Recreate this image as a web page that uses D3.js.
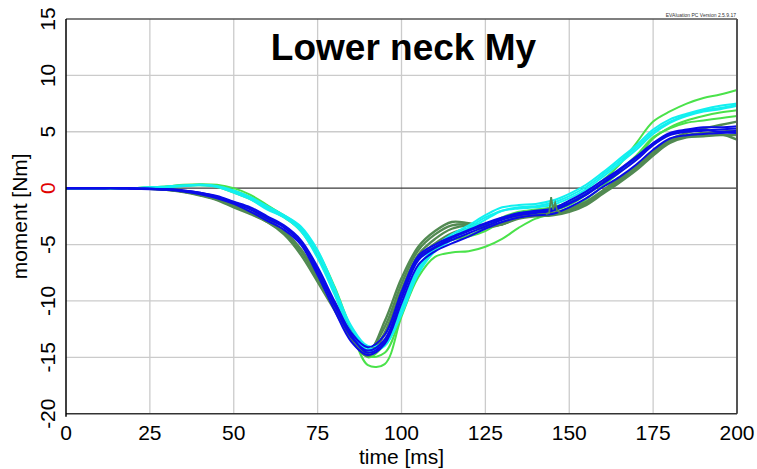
<!DOCTYPE html>
<html>
<head>
<meta charset="utf-8">
<script src="https://cdn.jsdelivr.net/npm/d3@7"></script>
<style>
  body { margin: 0; background: #fff; }
  svg { display: block; font-family: "Liberation Sans", Arial, sans-serif; }
</style>
</head>
<body>
<script>
  // sample times [ms]
  const times = [0, 5, 10, 15, 20, 25, 30, 35, 40, 45, 50, 55, 60, 65, 70, 75, 80, 85, 90, 95, 100,
                 105, 110, 115, 120, 125, 130, 135, 140, 145, 150, 155, 160, 165, 170, 175, 180, 185, 190, 195, 200];

  const xTicks = [0, 25, 50, 75, 100, 125, 150, 175, 200];
  const yTicks = [-20, -15, -10, -5, 0, 5, 10, 15];

  // dark green tests
  const dark1 = [0, 0, 0, 0, 0, -0.05, -0.15, -0.3, -0.6, -1.0, -1.6, -2.2, -2.9, -4.0, -5.6, -8.0, -10.4, -13.0, -14.6, -11.8, -8.0,
                 -5.2, -3.8, -3.0, -3.1, -3.3, -3.2, -2.6, -2.4, -2.3, -2.0, -1.4, -0.4, 0.6, 1.8, 3.0, 4.1, 4.6, 4.8, 4.8, 4.3];
  const dark2 = [0, 0, 0, 0, 0, -0.05, -0.1, -0.3, -0.55, -0.95, -1.5, -2.1, -2.8, -3.8, -5.4, -7.8, -10.1, -12.6, -14.4, -12.3, -8.5,
                 -5.5, -4.1, -3.3, -3.2, -3.3, -3.1, -2.5, -2.3, -2.2, -1.8, -1.2, -0.2, 0.9, 2.0, 3.3, 4.3, 4.9, 5.3, 5.6, 5.9];
  const dark3 = [0, 0, 0, 0, 0, -0.05, -0.15, -0.35, -0.65, -1.05, -1.7, -2.3, -3.0, -4.1, -5.9, -8.3, -10.8, -13.4, -14.9, -12.8, -9.0,
                 -5.9, -4.5, -3.6, -3.3, -3.4, -3.2, -2.7, -2.5, -2.4, -2.1, -1.5, -0.5, 0.5, 1.6, 2.9, 4.0, 4.5, 4.6, 4.7, 4.7];
  const dark4 = [0, 0, 0, 0, 0, -0.05, -0.1, -0.3, -0.6, -1.0, -1.6, -2.2, -3.0, -3.9, -5.5, -7.6, -10.2, -12.9, -14.5, -13.0, -9.6,
                 -6.2, -4.9, -4.0, -3.6, -3.5, -3.2, -2.6, -2.4, -2.3, -1.9, -1.3, -0.3, 0.7, 1.9, 3.2, 4.2, 4.7, 4.9, 5.0, 5.1];
  // the little spike on one dark green trace near 145 ms
  const spikeTimes = [143, 144, 144.6, 145.2, 145.8, 146.4, 147.5];
  const spikeValues = [-2.3, -2.2, -0.8, -1.9, -1.3, -2.0, -2.2];

  // light green tests
  const light1 = [0, 0, 0, 0, 0, 0.05, 0.15, 0.3, 0.35, 0.3, 0.0, -0.6, -1.5, -2.5, -3.8, -6.0, -9.0, -12.4, -15.0, -13.8, -10.6,
                  -7.2, -5.4, -4.6, -4.2, -3.5, -2.6, -2.1, -1.9, -1.7, -1.2, -0.3, 0.7, 2.1, 4.0, 5.9, 6.8, 7.5, 8.0, 8.3, 8.7];
  const light2 = [0, 0, 0, 0, 0, 0.05, 0.15, 0.25, 0.3, 0.2, -0.2, -0.8, -1.6, -2.4, -3.5, -5.6, -8.7, -12.5, -15.7, -15.6, -11.4,
                  -7.9, -6.1, -5.7, -5.6, -5.2, -4.5, -3.5, -2.7, -2.3, -1.9, -1.0, 0.2, 1.4, 2.6, 4.4, 5.4, 6.0, 6.4, 6.7, 6.9];
  const light3 = [0, 0, 0, 0, 0, 0, 0.1, 0.2, 0.25, 0.1, -0.4, -1.0, -1.8, -2.6, -3.7, -6.0, -9.3, -12.8, -14.9, -14.6, -11.2,
                  -7.6, -5.3, -4.6, -4.3, -3.8, -3.0, -2.5, -2.2, -2.0, -1.5, -0.6, 0.5, 1.6, 2.9, 4.5, 5.3, 5.8, 6.0, 6.2, 6.4];

  // cyan tests
  const cyan1 = [0, 0, 0, 0, 0, 0.05, 0.15, 0.25, 0.3, 0.15, -0.3, -0.9, -1.8, -2.5, -3.6, -5.8, -9.0, -12.4, -14.2, -13.9, -11.2,
                 -7.6, -5.6, -4.6, -3.7, -2.8, -2.0, -1.7, -1.6, -1.3, -0.7, 0.1, 1.2, 2.4, 3.6, 5.0, 5.9, 6.5, 6.9, 7.1, 7.4];
  const cyan2 = [0, 0, 0, 0, 0, 0.05, 0.1, 0.2, 0.25, 0.1, -0.4, -1.0, -1.9, -2.6, -3.8, -6.2, -9.4, -12.8, -14.4, -14.0, -11.0,
                 -7.3, -5.3, -4.3, -3.5, -2.6, -2.0, -1.8, -1.7, -1.5, -0.9, -0.1, 1.0, 2.2, 3.4, 4.8, 5.8, 6.4, 6.8, 7.0, 7.3];
  const cyan3 = [0, 0, 0, 0, 0, 0.05, 0.1, 0.2, 0.3, 0.2, -0.2, -0.8, -1.6, -2.4, -3.4, -5.5, -8.8, -12.2, -14.0, -13.6, -10.6,
                 -7.0, -5.2, -4.1, -3.3, -2.4, -1.7, -1.5, -1.4, -1.1, -0.5, 0.3, 1.4, 2.6, 3.8, 5.2, 6.1, 6.6, 7.0, 7.3, 7.5];

  // blue tests
  const blue1 = [0, 0, 0, 0, -0.05, -0.05, -0.1, -0.25, -0.45, -0.8, -1.3, -1.9, -2.7, -3.5, -4.8, -7.4, -10.4, -13.2, -14.4, -13.4, -9.8,
                 -6.4, -5.3, -4.6, -4.0, -3.4, -2.8, -2.4, -2.2, -2.0, -1.4, -0.6, 0.4, 1.4, 2.5, 3.8, 4.7, 5.0, 5.1, 5.2, 5.3];
  const blue2 = [0, 0, 0, 0, 0, -0.05, -0.1, -0.2, -0.4, -0.7, -1.2, -1.7, -2.5, -3.3, -4.6, -7.0, -10.0, -12.8, -14.1, -13.0, -9.2,
                 -6.0, -5.0, -4.3, -3.7, -3.1, -2.6, -2.2, -2.0, -1.8, -1.1, -0.3, 0.7, 1.7, 2.8, 4.0, 4.9, 5.2, 5.4, 5.4, 5.5];
  const blue3 = [0, 0, 0, 0, -0.05, -0.1, -0.15, -0.3, -0.55, -0.9, -1.4, -2.1, -2.9, -3.7, -5.0, -7.7, -10.8, -13.6, -14.8, -13.8, -10.2,
                 -6.8, -5.6, -4.9, -4.3, -3.6, -3.0, -2.6, -2.4, -2.3, -1.7, -0.9, 0.1, 1.0, 2.1, 3.4, 4.4, 4.7, 4.8, 4.9, 4.9];
  const blue4 = [0, 0, 0, 0, 0, -0.05, -0.1, -0.2, -0.4, -0.75, -1.25, -1.85, -2.6, -3.4, -4.7, -7.2, -10.2, -13.0, -14.6, -13.6, -9.6,
                 -6.2, -5.2, -4.4, -3.8, -3.2, -2.7, -2.3, -2.1, -1.9, -1.3, -0.5, 0.5, 1.6, 2.7, 3.9, 4.8, 5.1, 5.2, 5.0, 5.1];

  const darkGreen = '#528a52';
  const lightGreen = '#4ae24a';
  const cyan = '#12f0f0';
  const blue = '#0b0be8';

  const width = 757;
  const height = 469;
  const plotLeft = 66, plotRight = 737, plotTop = 19, plotBottom = 413.7;

  const svg = d3.select('body')
          .append('svg')
          .attr('width', width)
          .attr('height', height);

  const x = d3.scaleLinear().domain([0, 200]).range([plotLeft, plotRight]);
  const y = d3.scaleLinear().domain([-20, 15]).range([plotBottom, plotTop]);

  // grid
  svg.append('g')
          .selectAll('line')
          .data(xTicks.slice(1, -1))
          .enter()
          .append('line')
          .attr('x1', d => x(d)).attr('x2', d => x(d))
          .attr('y1', plotTop).attr('y2', plotBottom)
          .attr('stroke', '#cbcbcb').attr('stroke-width', 1.3);

  svg.append('g')
          .selectAll('line')
          .data(yTicks.filter(d => d !== 0 && d !== -20 && d !== 15))
          .enter()
          .append('line')
          .attr('x1', plotLeft).attr('x2', plotRight)
          .attr('y1', d => y(d)).attr('y2', d => y(d))
          .attr('stroke', '#cbcbcb').attr('stroke-width', 1.3);

  // zero line
  svg.append('line')
          .attr('x1', plotLeft).attr('x2', plotRight)
          .attr('y1', y(0)).attr('y2', y(0))
          .attr('stroke', '#3a3a3a').attr('stroke-width', 1.3);

  // curves
  const line = d3.line()
          .x(d => x(d[0]))
          .y(d => y(d[1]))
          .curve(d3.curveCatmullRom.alpha(0.5));

  const series = [
    { values: light1, color: lightGreen, w: 2 },
    { values: light2, color: lightGreen, w: 2 },
    { values: light3, color: lightGreen, w: 2 },
    { values: dark1, color: darkGreen, w: 2.4 },
    { values: dark2, color: darkGreen, w: 2.4 },
    { values: dark3, color: darkGreen, w: 2.4 },
    { values: dark4, color: darkGreen, w: 2.4 },
    { values: cyan1, color: cyan, w: 2 },
    { values: cyan2, color: cyan, w: 2 },
    { values: cyan3, color: cyan, w: 2 },
    { values: blue1, color: blue, w: 2 },
    { values: blue2, color: blue, w: 2 },
    { values: blue3, color: blue, w: 2 },
    { values: blue4, color: blue, w: 2 }
  ];

  const g = svg.append('g');
  series.forEach(s => {
    g.append('path')
            .datum(times.map((t, i) => [t, s.values[i]]))
            .attr('d', line)
            .attr('fill', 'none')
            .attr('stroke', s.color)
            .attr('stroke-width', s.w)
            .attr('stroke-linejoin', 'round');
  });

  g.append('path')
          .datum(spikeTimes.map((t, i) => [t, spikeValues[i]]))
          .attr('d', d3.line().x(d => x(d[0])).y(d => y(d[1])))
          .attr('fill', 'none')
          .attr('stroke', darkGreen)
          .attr('stroke-width', 1.8);

  // frame
  svg.append('line').attr('x1', plotLeft).attr('x2', plotRight).attr('y1', plotTop).attr('y2', plotTop)
          .attr('stroke', '#555').attr('stroke-width', 1.5);
  svg.append('line').attr('x1', plotRight).attr('x2', plotRight).attr('y1', plotTop).attr('y2', plotBottom)
          .attr('stroke', '#555').attr('stroke-width', 2);
  svg.append('line').attr('x1', plotLeft).attr('x2', plotRight).attr('y1', plotBottom).attr('y2', plotBottom)
          .attr('stroke', '#333').attr('stroke-width', 1.5);
  svg.append('line').attr('x1', plotLeft).attr('x2', plotLeft).attr('y1', plotTop).attr('y2', plotBottom + 3)
          .attr('stroke', '#000').attr('stroke-width', 1.5);

  // tick labels
  svg.append('g')
          .selectAll('text')
          .data(xTicks)
          .enter()
          .append('text')
          .attr('x', d => x(d))
          .attr('y', 440)
          .attr('text-anchor', 'middle')
          .attr('font-size', 21)
          .text(d => d);

  svg.append('g')
          .selectAll('text')
          .data(yTicks)
          .enter()
          .append('text')
          .attr('transform', d => `translate(55,${y(d)}) rotate(-90)`)
          .attr('text-anchor', 'middle')
          .attr('font-size', 21)
          .attr('fill', d => d === 0 ? '#e00000' : '#000')
          .text(d => d);

  // titles
  svg.append('text')
          .attr('x', (plotLeft + plotRight) / 2)
          .attr('y', 464)
          .attr('text-anchor', 'middle')
          .attr('font-size', 21)
          .text('time [ms]');

  svg.append('text')
          .attr('transform', `translate(27,${(plotTop + plotBottom) / 2}) rotate(-90)`)
          .attr('text-anchor', 'middle')
          .attr('font-size', 21)
          .text('moment [Nm]');

  svg.append('text')
          .attr('x', (plotLeft + plotRight) / 2 + 2)
          .attr('y', 60)
          .attr('text-anchor', 'middle')
          .attr('font-size', 37)
          .attr('font-weight', 'bold')
          .text('Lower neck My');

  svg.append('text')
          .attr('x', 736)
          .attr('y', 16.5)
          .attr('text-anchor', 'end')
          .attr('font-size', 5)
          .attr('fill', '#333')
          .text('EVAluation PC Version 2.5.9.17');
</script>
</body>
</html>
